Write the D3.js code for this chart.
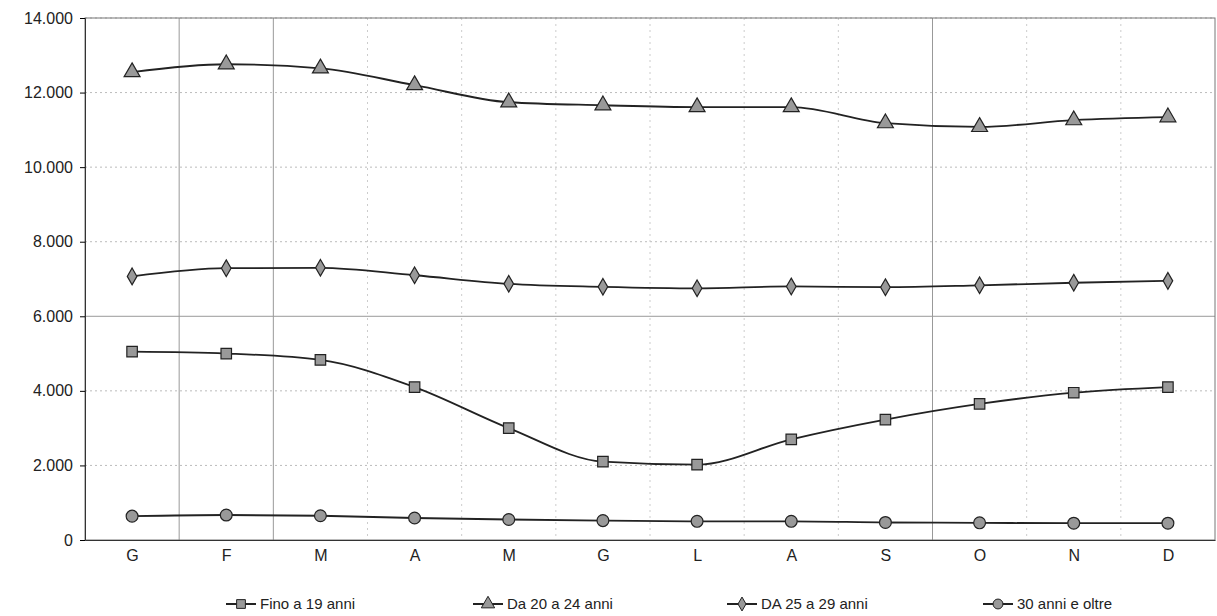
<!DOCTYPE html>
<html><head><meta charset="utf-8">
<script src="https://cdn.jsdelivr.net/npm/d3@7"></script>
<style>body{margin:0;background:#fff}text{font-family:"Liberation Sans",Arial,sans-serif}</style>
</head><body>
<svg id="chart" width="1217" height="616"></svg>
<script>
const months = ["G","F","M","A","M","G","L","A","S","O","N","D"];
const fino19 = [5050,5000,4830,4100,3000,2100,2020,2700,3230,3650,3950,4100];
const da20a24 = [12550,12760,12650,12200,11740,11660,11610,11610,11180,11080,11260,11340];
const da25a29 = [7070,7290,7300,7100,6870,6790,6750,6800,6780,6830,6900,6950];
const oltre30 = [640,670,650,590,550,520,500,500,470,460,450,450];
const yTicks = [0,2000,4000,6000,8000,10000,12000,14000];
const seriesNames = ["Fino a 19 anni","Da 20 a 24 anni","DA 25 a 29 anni","30 anni e oltre"];

const svg = d3.select("#chart");
const mLeft = 85, mRight = 1215, mTop = 18, mBottom = 540;
const fmt = d => d === 0 ? "0" : d3.format(",")(d).replace(/,/g, ".");

const x = d3.scalePoint().domain(d3.range(12)).range([mLeft, mRight]).padding(0.5);
const y = d3.scaleLinear().domain([0, 14000]).range([mBottom, mTop]);

// griglia
svg.append("g").selectAll("line").data(yTicks.slice(1)).join("line")
    .attr("x1", mLeft).attr("x2", mRight).attr("y1", d => y(d)).attr("y2", d => y(d))
    .attr("stroke", d => d === 6000 ? "#999" : "#bbb")
    .attr("stroke-dasharray", d => d === 6000 ? null : "2,3");
const step = x.step();
svg.append("g").selectAll("line").data(d3.range(1, 12)).join("line")
    .attr("x1", i => mLeft + i * step).attr("x2", i => mLeft + i * step)
    .attr("y1", mTop).attr("y2", mBottom)
    .attr("stroke", i => [1, 2, 9].includes(i) ? "#999" : "#ccc")
    .attr("stroke-dasharray", i => [1, 2, 9].includes(i) ? null : "2,4");

// cornice
svg.append("rect").attr("x", mLeft).attr("y", mTop).attr("width", mRight - mLeft).attr("height", mBottom - mTop)
    .attr("fill", "none").attr("stroke", "#777");

svg.append("g").attr("transform", `translate(${mLeft},0)`)
    .call(d3.axisLeft(y).tickValues(yTicks).tickFormat(fmt).tickSize(5))
    .call(g => g.select(".domain").attr("stroke", "#333"))
    .selectAll("text").attr("font-size", 16).attr("fill", "#222").attr("dx", -4);
svg.append("g").attr("transform", `translate(0,${mBottom})`)
    .call(d3.axisBottom(x).tickFormat(i => months[i]).tickSize(0))
    .call(g => g.select(".domain").attr("stroke", "#333"))
    .selectAll("text").attr("font-size", 16).attr("fill", "#222").attr("dy", 18);

const data = [fino19, da20a24, da25a29, oltre30];
const shapes = [d3.symbolSquare, d3.symbolTriangle, d3.symbolDiamond, d3.symbolCircle];
const sizes = [110, 110, 80, 110];
const line = d3.line().x((d, i) => x(i)).y(d => y(d)).curve(d3.curveMonotoneX);

data.forEach((vals, k) => {
    svg.append("path").attr("d", line(vals)).attr("fill", "none").attr("stroke", "#222").attr("stroke-width", 1.8);
    svg.append("g").selectAll("path").data(vals).join("path")
        .attr("transform", (d, i) => `translate(${x(i)},${y(d)})`)
        .attr("d", d3.symbol(shapes[k], sizes[k]))
        .attr("fill", "#999").attr("stroke", "#222").attr("stroke-width", 1.2);
});

// legenda
const legX = [226, 473, 727, 983];
const leg = svg.append("g");
seriesNames.forEach((n, k) => {
    const g = leg.append("g").attr("transform", `translate(${legX[k]},604)`);
    g.append("line").attr("x1", 0).attr("x2", 30).attr("stroke", "#222").attr("stroke-width", 2);
    g.append("path").attr("transform", "translate(15,0)").attr("d", d3.symbol(shapes[k], sizes[k] * 0.7))
        .attr("fill", "#999").attr("stroke", "#222");
    g.append("text").attr("x", 34).attr("y", 5).attr("font-size", 15).attr("fill", "#222").text(n);
});
</script>
</body></html>
